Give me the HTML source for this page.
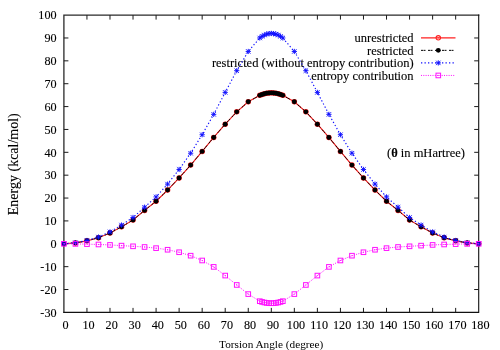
<!DOCTYPE html>
<html><head><meta charset="utf-8"><title>plot</title>
<style>html,body{margin:0;padding:0;background:#fff;overflow:hidden;}svg{display:block;}text{font-family:"Liberation Serif",serif;font-size:12.5px;fill:#000;stroke:#000;stroke-width:0.12px;}</style></head><body>
<svg width="500" height="350" viewBox="0 0 500 350">
<rect width="500" height="350" fill="#fff"/>
<defs>
<filter id="gs" x="-5%" y="-5%" width="110%" height="110%" color-interpolation-filters="sRGB"><feColorMatrix type="saturate" values="0"/></filter>
<g id="mc"><circle r="2.2" fill="none" stroke="#ff2020" stroke-width="1.1"/><circle r="0.5" fill="#ff2020"/></g>
<g id="mf"><circle r="2.45" fill="#000"/></g>
<g id="ms" stroke="#1010ff" stroke-width="0.95" fill="none"><path d="M-2.6,0H2.6M0,-2.6V2.6M-2.2,-2.2L2.2,2.2M-2.2,2.2L2.2,-2.2"/></g>
<g id="mq"><rect x="-2.3" y="-2.3" width="4.6" height="4.6" fill="none" stroke="#ff10ff" stroke-width="1"/><rect x="-0.5" y="-0.5" width="1" height="1" fill="#ff10ff"/></g>
</defs>
<g fill="none" stroke-linecap="square">
<path d="M63.90,312.40V15.10H478.70" stroke="#2a2a2a" stroke-width="1.3"/>
<path d="M63.90,312.40H478.70V15.10" stroke="#111" stroke-width="1.1"/>
</g>
<g stroke="#1a1a1a" stroke-width="1" fill="none">
<path d="M63.90,289.53h4.5M478.70,289.53h-4.5M63.90,266.66h4.5M478.70,266.66h-4.5M63.90,243.79h4.5M478.70,243.79h-4.5M63.90,220.92h4.5M478.70,220.92h-4.5M63.90,198.05h4.5M478.70,198.05h-4.5M63.90,175.18h4.5M478.70,175.18h-4.5M63.90,152.32h4.5M478.70,152.32h-4.5M63.90,129.45h4.5M478.70,129.45h-4.5M63.90,106.58h4.5M478.70,106.58h-4.5M63.90,83.71h4.5M478.70,83.71h-4.5M63.90,60.84h4.5M478.70,60.84h-4.5M63.90,37.97h4.5M478.70,37.97h-4.5M86.94,312.40v-4.5M86.94,15.10v4.5M109.99,312.40v-4.5M109.99,15.10v4.5M133.03,312.40v-4.5M133.03,15.10v4.5M156.08,312.40v-4.5M156.08,15.10v4.5M179.12,312.40v-4.5M179.12,15.10v4.5M202.17,312.40v-4.5M202.17,15.10v4.5M225.21,312.40v-4.5M225.21,15.10v4.5M248.26,312.40v-4.5M248.26,15.10v4.5M271.30,312.40v-4.5M271.30,15.10v4.5M294.34,312.40v-4.5M294.34,15.10v4.5M317.39,312.40v-4.5M317.39,15.10v4.5M340.43,312.40v-4.5M340.43,15.10v4.5M363.48,312.40v-4.5M363.48,15.10v4.5M386.52,312.40v-4.5M386.52,15.10v4.5M409.57,312.40v-4.5M409.57,15.10v4.5M432.61,312.40v-4.5M432.61,15.10v4.5M455.66,312.40v-4.5M455.66,15.10v4.5"/>
</g>
<g filter="url(#gs)">
<text transform="translate(56.6,316.6) scale(0.975,1.06)" text-anchor="end">-30</text>
<text transform="translate(56.6,293.7) scale(0.975,1.06)" text-anchor="end">-20</text>
<text transform="translate(56.6,270.9) scale(0.975,1.06)" text-anchor="end">-10</text>
<text transform="translate(56.6,248.0) scale(0.975,1.06)" text-anchor="end">0</text>
<text transform="translate(56.6,225.1) scale(0.975,1.06)" text-anchor="end">10</text>
<text transform="translate(56.6,202.3) scale(0.975,1.06)" text-anchor="end">20</text>
<text transform="translate(56.6,179.4) scale(0.975,1.06)" text-anchor="end">30</text>
<text transform="translate(56.6,156.5) scale(0.975,1.06)" text-anchor="end">40</text>
<text transform="translate(56.6,133.6) scale(0.975,1.06)" text-anchor="end">50</text>
<text transform="translate(56.6,110.8) scale(0.975,1.06)" text-anchor="end">60</text>
<text transform="translate(56.6,87.9) scale(0.975,1.06)" text-anchor="end">70</text>
<text transform="translate(56.6,65.0) scale(0.975,1.06)" text-anchor="end">80</text>
<text transform="translate(56.6,42.2) scale(0.975,1.06)" text-anchor="end">90</text>
<text transform="translate(56.6,19.3) scale(0.975,1.06)" text-anchor="end">100</text>
<text transform="translate(65.6,329.3) scale(0.975,1.06)" text-anchor="middle">0</text>
<text transform="translate(88.6,329.3) scale(0.975,1.06)" text-anchor="middle">10</text>
<text transform="translate(111.7,329.3) scale(0.975,1.06)" text-anchor="middle">20</text>
<text transform="translate(134.7,329.3) scale(0.975,1.06)" text-anchor="middle">30</text>
<text transform="translate(157.8,329.3) scale(0.975,1.06)" text-anchor="middle">40</text>
<text transform="translate(180.8,329.3) scale(0.975,1.06)" text-anchor="middle">50</text>
<text transform="translate(203.9,329.3) scale(0.975,1.06)" text-anchor="middle">60</text>
<text transform="translate(226.9,329.3) scale(0.975,1.06)" text-anchor="middle">70</text>
<text transform="translate(250.0,329.3) scale(0.975,1.06)" text-anchor="middle">80</text>
<text transform="translate(273.0,329.3) scale(0.975,1.06)" text-anchor="middle">90</text>
<text transform="translate(296.0,329.3) scale(0.975,1.06)" text-anchor="middle">100</text>
<text transform="translate(319.1,329.3) scale(0.975,1.06)" text-anchor="middle">110</text>
<text transform="translate(342.1,329.3) scale(0.975,1.06)" text-anchor="middle">120</text>
<text transform="translate(365.2,329.3) scale(0.975,1.06)" text-anchor="middle">130</text>
<text transform="translate(388.2,329.3) scale(0.975,1.06)" text-anchor="middle">140</text>
<text transform="translate(411.3,329.3) scale(0.975,1.06)" text-anchor="middle">150</text>
<text transform="translate(434.3,329.3) scale(0.975,1.06)" text-anchor="middle">160</text>
<text transform="translate(457.4,329.3) scale(0.975,1.06)" text-anchor="middle">170</text>
<text transform="translate(480.4,329.3) scale(0.975,1.06)" text-anchor="middle">180</text>
<text transform="translate(17.7,164.2) rotate(-90)" text-anchor="middle" style="font-size:14px">Energy (kcal/mol)</text>
<text x="271.2" y="347.8" text-anchor="middle" style="font-size:11.25px;stroke:none">Torsion Angle (degree)</text>
<text x="465" y="156.7" text-anchor="end">(<tspan font-weight="bold">θ</tspan> in mHartree)</text>
<text x="413.6" y="42.0" text-anchor="end">unrestricted</text>
<text x="413.6" y="54.6" text-anchor="end">restricted</text>
<text x="413.6" y="67.1" text-anchor="end">restricted (without entropy contribution)</text>
<text x="413.6" y="79.7" text-anchor="end">entropy contribution</text>
</g>
<polyline points="63.90,243.79 75.42,242.88 86.94,240.82 98.47,237.73 109.99,233.04 121.51,226.87 133.03,220.01 144.56,210.40 156.08,201.26 167.60,190.05 179.12,177.93 190.64,165.12 202.17,151.40 213.69,137.45 225.21,124.19 236.73,111.84 248.26,101.77 259.78,95.37 262.08,94.47 264.39,93.76 266.69,93.26 269.00,92.96 271.30,92.86 273.60,92.96 275.91,93.26 278.21,93.76 280.52,94.47 282.82,95.37 294.34,101.77 305.87,111.84 317.39,124.19 328.91,137.45 340.43,151.40 351.96,165.12 363.48,177.93 375.00,190.05 386.52,201.26 398.04,210.40 409.57,220.01 421.09,226.87 432.61,233.04 444.13,237.73 455.66,240.82 467.18,242.88 478.70,243.79" fill="none" stroke="#ff2020" stroke-width="1.15"/>
<use href="#mc" x="63.90" y="243.79"/>
<use href="#mc" x="75.42" y="242.88"/>
<use href="#mc" x="86.94" y="240.82"/>
<use href="#mc" x="98.47" y="237.73"/>
<use href="#mc" x="109.99" y="233.04"/>
<use href="#mc" x="121.51" y="226.87"/>
<use href="#mc" x="133.03" y="220.01"/>
<use href="#mc" x="144.56" y="210.40"/>
<use href="#mc" x="156.08" y="201.26"/>
<use href="#mc" x="167.60" y="190.05"/>
<use href="#mc" x="179.12" y="177.93"/>
<use href="#mc" x="190.64" y="165.12"/>
<use href="#mc" x="202.17" y="151.40"/>
<use href="#mc" x="213.69" y="137.45"/>
<use href="#mc" x="225.21" y="124.19"/>
<use href="#mc" x="236.73" y="111.84"/>
<use href="#mc" x="248.26" y="101.77"/>
<use href="#mc" x="259.78" y="95.37"/>
<use href="#mc" x="262.08" y="94.47"/>
<use href="#mc" x="264.39" y="93.76"/>
<use href="#mc" x="266.69" y="93.26"/>
<use href="#mc" x="269.00" y="92.96"/>
<use href="#mc" x="271.30" y="92.86"/>
<use href="#mc" x="273.60" y="92.96"/>
<use href="#mc" x="275.91" y="93.26"/>
<use href="#mc" x="278.21" y="93.76"/>
<use href="#mc" x="280.52" y="94.47"/>
<use href="#mc" x="282.82" y="95.37"/>
<use href="#mc" x="294.34" y="101.77"/>
<use href="#mc" x="305.87" y="111.84"/>
<use href="#mc" x="317.39" y="124.19"/>
<use href="#mc" x="328.91" y="137.45"/>
<use href="#mc" x="340.43" y="151.40"/>
<use href="#mc" x="351.96" y="165.12"/>
<use href="#mc" x="363.48" y="177.93"/>
<use href="#mc" x="375.00" y="190.05"/>
<use href="#mc" x="386.52" y="201.26"/>
<use href="#mc" x="398.04" y="210.40"/>
<use href="#mc" x="409.57" y="220.01"/>
<use href="#mc" x="421.09" y="226.87"/>
<use href="#mc" x="432.61" y="233.04"/>
<use href="#mc" x="444.13" y="237.73"/>
<use href="#mc" x="455.66" y="240.82"/>
<use href="#mc" x="467.18" y="242.88"/>
<use href="#mc" x="478.70" y="243.79"/>
<polyline points="63.90,243.79 75.42,242.88 86.94,240.82 98.47,237.73 109.99,233.04 121.51,226.87 133.03,220.01 144.56,210.40 156.08,201.26 167.60,190.05 179.12,177.93 190.64,165.12 202.17,151.40 213.69,137.45 225.21,124.19 236.73,111.84 248.26,101.77 259.78,95.37 262.08,94.47 264.39,93.76 266.69,93.26 269.00,92.96 271.30,92.86 273.60,92.96 275.91,93.26 278.21,93.76 280.52,94.47 282.82,95.37 294.34,101.77 305.87,111.84 317.39,124.19 328.91,137.45 340.43,151.40 351.96,165.12 363.48,177.93 375.00,190.05 386.52,201.26 398.04,210.40 409.57,220.01 421.09,226.87 432.61,233.04 444.13,237.73 455.66,240.82 467.18,242.88 478.70,243.79" fill="none" stroke="#000" stroke-width="0.95" stroke-dasharray="2,0.5,2,2.5"/>
<use href="#mf" x="63.90" y="243.79"/>
<use href="#mf" x="75.42" y="242.88"/>
<use href="#mf" x="86.94" y="240.82"/>
<use href="#mf" x="98.47" y="237.73"/>
<use href="#mf" x="109.99" y="233.04"/>
<use href="#mf" x="121.51" y="226.87"/>
<use href="#mf" x="133.03" y="220.01"/>
<use href="#mf" x="144.56" y="210.40"/>
<use href="#mf" x="156.08" y="201.26"/>
<use href="#mf" x="167.60" y="190.05"/>
<use href="#mf" x="179.12" y="177.93"/>
<use href="#mf" x="190.64" y="165.12"/>
<use href="#mf" x="202.17" y="151.40"/>
<use href="#mf" x="213.69" y="137.45"/>
<use href="#mf" x="225.21" y="124.19"/>
<use href="#mf" x="236.73" y="111.84"/>
<use href="#mf" x="248.26" y="101.77"/>
<use href="#mf" x="259.78" y="95.37"/>
<use href="#mf" x="262.08" y="94.47"/>
<use href="#mf" x="264.39" y="93.76"/>
<use href="#mf" x="266.69" y="93.26"/>
<use href="#mf" x="269.00" y="92.96"/>
<use href="#mf" x="271.30" y="92.86"/>
<use href="#mf" x="273.60" y="92.96"/>
<use href="#mf" x="275.91" y="93.26"/>
<use href="#mf" x="278.21" y="93.76"/>
<use href="#mf" x="280.52" y="94.47"/>
<use href="#mf" x="282.82" y="95.37"/>
<use href="#mf" x="294.34" y="101.77"/>
<use href="#mf" x="305.87" y="111.84"/>
<use href="#mf" x="317.39" y="124.19"/>
<use href="#mf" x="328.91" y="137.45"/>
<use href="#mf" x="340.43" y="151.40"/>
<use href="#mf" x="351.96" y="165.12"/>
<use href="#mf" x="363.48" y="177.93"/>
<use href="#mf" x="375.00" y="190.05"/>
<use href="#mf" x="386.52" y="201.26"/>
<use href="#mf" x="398.04" y="210.40"/>
<use href="#mf" x="409.57" y="220.01"/>
<use href="#mf" x="421.09" y="226.87"/>
<use href="#mf" x="432.61" y="233.04"/>
<use href="#mf" x="444.13" y="237.73"/>
<use href="#mf" x="455.66" y="240.82"/>
<use href="#mf" x="467.18" y="242.88"/>
<use href="#mf" x="478.70" y="243.79"/>
<polyline points="63.90,243.79 75.42,242.76 86.94,240.48 98.47,237.05 109.99,231.90 121.51,225.04 133.03,217.49 144.56,207.20 156.08,196.91 167.60,184.10 179.12,169.47 190.64,153.23 202.17,134.71 213.69,114.35 225.21,92.40 236.73,70.67 248.26,51.46 259.78,37.97 262.08,36.32 264.39,35.04 266.69,34.13 269.00,33.58 271.30,33.40 273.60,33.58 275.91,34.13 278.21,35.04 280.52,36.32 282.82,37.97 294.34,51.46 305.87,70.67 317.39,92.40 328.91,114.35 340.43,134.71 351.96,153.23 363.48,169.47 375.00,184.10 386.52,196.91 398.04,207.20 409.57,217.49 421.09,225.04 432.61,231.90 444.13,237.05 455.66,240.48 467.18,242.76 478.70,243.79" fill="none" stroke="#1010ff" stroke-width="1.15" stroke-dasharray="1.3,2.2"/>
<use href="#ms" x="63.90" y="243.79"/>
<use href="#ms" x="75.42" y="242.76"/>
<use href="#ms" x="86.94" y="240.48"/>
<use href="#ms" x="98.47" y="237.05"/>
<use href="#ms" x="109.99" y="231.90"/>
<use href="#ms" x="121.51" y="225.04"/>
<use href="#ms" x="133.03" y="217.49"/>
<use href="#ms" x="144.56" y="207.20"/>
<use href="#ms" x="156.08" y="196.91"/>
<use href="#ms" x="167.60" y="184.10"/>
<use href="#ms" x="179.12" y="169.47"/>
<use href="#ms" x="190.64" y="153.23"/>
<use href="#ms" x="202.17" y="134.71"/>
<use href="#ms" x="213.69" y="114.35"/>
<use href="#ms" x="225.21" y="92.40"/>
<use href="#ms" x="236.73" y="70.67"/>
<use href="#ms" x="248.26" y="51.46"/>
<use href="#ms" x="259.78" y="37.97"/>
<use href="#ms" x="262.08" y="36.32"/>
<use href="#ms" x="264.39" y="35.04"/>
<use href="#ms" x="266.69" y="34.13"/>
<use href="#ms" x="269.00" y="33.58"/>
<use href="#ms" x="271.30" y="33.40"/>
<use href="#ms" x="273.60" y="33.58"/>
<use href="#ms" x="275.91" y="34.13"/>
<use href="#ms" x="278.21" y="35.04"/>
<use href="#ms" x="280.52" y="36.32"/>
<use href="#ms" x="282.82" y="37.97"/>
<use href="#ms" x="294.34" y="51.46"/>
<use href="#ms" x="305.87" y="70.67"/>
<use href="#ms" x="317.39" y="92.40"/>
<use href="#ms" x="328.91" y="114.35"/>
<use href="#ms" x="340.43" y="134.71"/>
<use href="#ms" x="351.96" y="153.23"/>
<use href="#ms" x="363.48" y="169.47"/>
<use href="#ms" x="375.00" y="184.10"/>
<use href="#ms" x="386.52" y="196.91"/>
<use href="#ms" x="398.04" y="207.20"/>
<use href="#ms" x="409.57" y="217.49"/>
<use href="#ms" x="421.09" y="225.04"/>
<use href="#ms" x="432.61" y="231.90"/>
<use href="#ms" x="444.13" y="237.05"/>
<use href="#ms" x="455.66" y="240.48"/>
<use href="#ms" x="467.18" y="242.76"/>
<use href="#ms" x="478.70" y="243.79"/>
<polyline points="63.90,243.79 75.42,243.91 86.94,244.14 98.47,244.48 109.99,244.94 121.51,245.62 133.03,246.31 144.56,246.99 156.08,248.14 167.60,249.74 179.12,252.25 190.64,255.68 202.17,260.49 213.69,266.89 225.21,275.58 236.73,284.96 248.26,294.10 259.78,301.19 262.08,301.94 264.39,302.51 266.69,302.92 269.00,303.17 271.30,303.25 273.60,303.17 275.91,302.92 278.21,302.51 280.52,301.94 282.82,301.19 294.34,294.10 305.87,284.96 317.39,275.58 328.91,266.89 340.43,260.49 351.96,255.68 363.48,252.25 375.00,249.74 386.52,248.14 398.04,246.99 409.57,246.31 421.09,245.62 432.61,244.94 444.13,244.48 455.66,244.14 467.18,243.91 478.70,243.79" fill="none" stroke="#ff10ff" stroke-width="1.0" stroke-dasharray="1,1.3"/>
<use href="#mq" x="63.90" y="243.79"/>
<use href="#mq" x="75.42" y="243.91"/>
<use href="#mq" x="86.94" y="244.14"/>
<use href="#mq" x="98.47" y="244.48"/>
<use href="#mq" x="109.99" y="244.94"/>
<use href="#mq" x="121.51" y="245.62"/>
<use href="#mq" x="133.03" y="246.31"/>
<use href="#mq" x="144.56" y="246.99"/>
<use href="#mq" x="156.08" y="248.14"/>
<use href="#mq" x="167.60" y="249.74"/>
<use href="#mq" x="179.12" y="252.25"/>
<use href="#mq" x="190.64" y="255.68"/>
<use href="#mq" x="202.17" y="260.49"/>
<use href="#mq" x="213.69" y="266.89"/>
<use href="#mq" x="225.21" y="275.58"/>
<use href="#mq" x="236.73" y="284.96"/>
<use href="#mq" x="248.26" y="294.10"/>
<use href="#mq" x="259.78" y="301.19"/>
<use href="#mq" x="262.08" y="301.94"/>
<use href="#mq" x="264.39" y="302.51"/>
<use href="#mq" x="266.69" y="302.92"/>
<use href="#mq" x="269.00" y="303.17"/>
<use href="#mq" x="271.30" y="303.25"/>
<use href="#mq" x="273.60" y="303.17"/>
<use href="#mq" x="275.91" y="302.92"/>
<use href="#mq" x="278.21" y="302.51"/>
<use href="#mq" x="280.52" y="301.94"/>
<use href="#mq" x="282.82" y="301.19"/>
<use href="#mq" x="294.34" y="294.10"/>
<use href="#mq" x="305.87" y="284.96"/>
<use href="#mq" x="317.39" y="275.58"/>
<use href="#mq" x="328.91" y="266.89"/>
<use href="#mq" x="340.43" y="260.49"/>
<use href="#mq" x="351.96" y="255.68"/>
<use href="#mq" x="363.48" y="252.25"/>
<use href="#mq" x="375.00" y="249.74"/>
<use href="#mq" x="386.52" y="248.14"/>
<use href="#mq" x="398.04" y="246.99"/>
<use href="#mq" x="409.57" y="246.31"/>
<use href="#mq" x="421.09" y="245.62"/>
<use href="#mq" x="432.61" y="244.94"/>
<use href="#mq" x="444.13" y="244.48"/>
<use href="#mq" x="455.66" y="244.14"/>
<use href="#mq" x="467.18" y="243.91"/>
<use href="#mq" x="478.70" y="243.79"/>
<line x1="421" y1="37.80" x2="455.5" y2="37.80" stroke="#ff2020" stroke-width="1.2"/>
<use href="#mc" x="438.3" y="37.80"/>
<line x1="421" y1="50.35" x2="455.5" y2="50.35" stroke="#000" stroke-width="1.0" stroke-dasharray="2,0.5,2,2.5"/>
<use href="#mf" x="438.3" y="50.35"/>
<line x1="421" y1="62.90" x2="455.5" y2="62.90" stroke="#1010ff" stroke-width="1.2" stroke-dasharray="1.3,2.2"/>
<use href="#ms" x="438.3" y="62.90"/>
<line x1="421" y1="75.45" x2="455.5" y2="75.45" stroke="#ff10ff" stroke-width="1.0" stroke-dasharray="1,1.3"/>
<use href="#mq" x="438.3" y="75.45"/>
</svg></body></html>
